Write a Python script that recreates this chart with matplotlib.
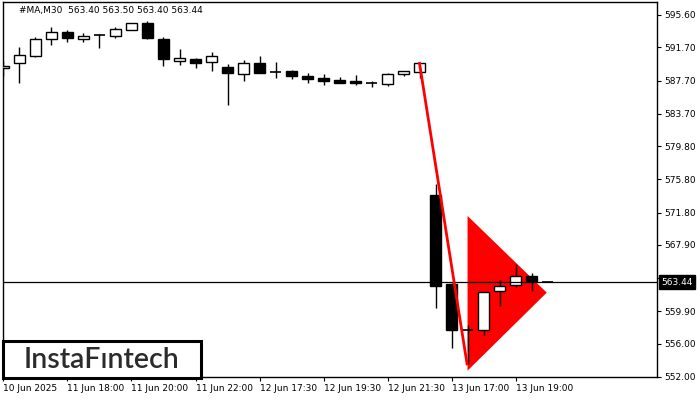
import numpy as np
import matplotlib.pyplot as plt
from matplotlib.patches import Rectangle, Polygon

# Candles (M30)
opens = [589.25, 589.80, 590.71, 592.69, 593.60, 592.69, 593.20, 593.12, 593.75, 594.65,
         592.72, 590.10, 590.30, 589.90, 589.31, 588.47, 589.80, 588.70, 588.87, 588.19,
         587.95, 587.71, 587.59, 587.35, 587.26, 588.47, 588.76, 573.93, 563.20, 557.70,
         557.70, 562.30, 563.05, 564.17, 563.40]
highs = [590.10, 591.76, 592.93, 594.17, 593.80, 593.40, 593.25, 594.20, 594.60, 594.89,
         592.96, 591.50, 590.47, 591.16, 589.70, 590.19, 590.67, 589.95, 588.99, 588.58,
         588.47, 588.10, 588.42, 587.59, 588.63, 588.90, 589.76, 575.25, 563.30, 558.23,
         562.20, 563.70, 565.65, 564.56, 563.50]
lows = [588.30, 587.46, 590.59, 592.04, 592.40, 592.40, 591.67, 592.80, 593.75, 592.76,
        589.40, 589.60, 589.27, 588.90, 584.80, 587.70, 588.66, 587.95, 587.86, 587.46,
        587.20, 587.35, 587.20, 586.90, 587.06, 588.23, 587.99, 560.30, 555.53, 553.57,
        557.10, 560.60, 562.80, 562.40, 563.40]
closes = [589.40, 590.80, 592.69, 593.60, 592.80, 593.05, 593.20, 593.88, 594.60, 592.88,
          590.35, 590.43, 589.87, 590.67, 588.59, 589.80, 588.66, 588.70, 588.23, 587.86,
          587.63, 587.42, 587.35, 587.35, 588.50, 588.80, 589.76, 563.00, 557.70, 557.70,
          562.20, 563.00, 564.13, 563.53, 563.44]

time_ticks = [0, 4, 8, 12, 16, 20, 24, 28, 32]
time_labels = ["10 Jun 2025", "11 Jun 18:00", "11 Jun 20:00", "11 Jun 22:00", "12 Jun 17:30",
               "12 Jun 19:30", "12 Jun 21:30", "13 Jun 17:00", "13 Jun 19:00"]
price_ticks = [552.00, 556.00, 559.90, 563.90, 567.90, 571.80, 575.80, 579.80,
               583.70, 587.70, 591.70, 595.60]

last_price = 563.44
header = "#MA,M30  563.40 563.50 563.40 563.44"

# Pennant pattern
pole_x = [26.0, 28.97]
pole_y = [589.76, 553.57]
pennant_x = [29.0, 29.0, 33.95]
pennant_y = [571.4, 552.76, 562.16]


def draw_chart():
    fig = plt.figure(figsize=(7, 4), dpi=100)
    ax = fig.add_axes([3 / 700, 23 / 400, 654 / 700, 375 / 400])

    x = np.arange(len(opens))
    o = np.array(opens)
    c = np.array(closes)
    body_w = 0.66

    # pennant triangle behind candles
    ax.add_patch(Polygon(list(zip(pennant_x, pennant_y)), closed=True,
                         facecolor="#ff0000", edgecolor="none", zorder=1))

    # wicks
    ax.vlines(x, lows, highs, color="black", linewidth=1, zorder=2)

    # bodies
    for i in range(len(x)):
        bottom = min(o[i], c[i])
        height = abs(c[i] - o[i])
        if height < 0.05:
            ax.hlines(o[i], x[i] - body_w / 2, x[i] + body_w / 2, color="black",
                      linewidth=1.2, zorder=3)
            continue
        face = "white" if c[i] > o[i] else "black"
        ax.add_patch(Rectangle((x[i] - body_w / 2, bottom), body_w, height,
                               facecolor=face, edgecolor="black", linewidth=1, zorder=3))

    # current price line
    ax.axhline(last_price, color="black", linewidth=0.9, zorder=4)

    # pennant pole
    ax.plot(pole_x, pole_y, color="#ff0000", linewidth=2, zorder=5)

    ax.set_xlim(-0.03, 40.84)
    ax.set_ylim(552.0, 597.16)

    ax.yaxis.tick_right()
    ax.set_yticks(price_ticks)
    ax.set_yticklabels([f"{p:.2f}" for p in price_ticks])
    ax.set_xticks(time_ticks)
    ax.set_xticklabels(time_labels, ha="left")
    ax.tick_params(axis="both", labelsize=6.5, length=3, width=0.8, pad=2, colors="black")
    for lab in ax.get_yticklabels():
        if lab.get_text() == "563.90":
            lab.set_visible(False)
    for sp in ax.spines.values():
        sp.set_linewidth(1)
        sp.set_color("black")

    # last price badge
    ax.text(1.006, last_price, f"{last_price:.2f}", transform=ax.get_yaxis_transform(),
            fontsize=6.5, color="white", va="center", ha="left",
            bbox=dict(boxstyle="square,pad=0.25", facecolor="black", edgecolor="black"))

    fig.text(19 / 700, 1 - 10 / 400, header, fontsize=6.5, va="center", ha="left")

    # logo
    fig.patches.append(Rectangle((3 / 700, 22 / 400), 198 / 700, 37 / 400,
                                 transform=fig.transFigure, facecolor="white",
                                 edgecolor="black", linewidth=2.2, zorder=10))
    fig.text(102 / 700, 1 - 360 / 400, "InstaF\u0131ntech", fontsize=20.5, family="Lato",
             fontweight="semibold", color="#2b2b2b", ha="center", va="center", zorder=11)

    fig.savefig("out.png", dpi=100)


if __name__ == "__main__":
    draw_chart()
